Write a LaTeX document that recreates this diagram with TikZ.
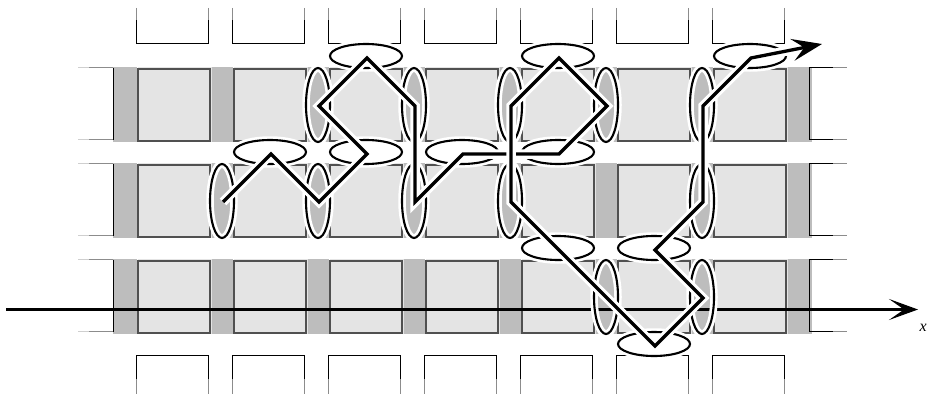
\documentclass[tikz,border=0pt]{standalone}
\usepackage{fontspec}
\setmainfont{Liberation Serif}
\usetikzlibrary{arrows.meta,shapes.geometric}
\definecolor{GateGray}{HTML}{BDBDBD}
\definecolor{CellGray}{HTML}{E4E4E4}
\definecolor{CellEdge}{HTML}{505050}
\definecolor{StubFade}{HTML}{8C8C8C}
\definecolor{StubPale}{HTML}{CFCFCF}

\begin{document}
\begin{tikzpicture}[
  x=1pt, y=-1pt,
  gate/.style={fill=GateGray},
  backing/.style={fill=CellGray},
  cell/.style={rectangle, draw=CellEdge, fill=CellGray, line width=1.2pt,
               minimum width=72pt, minimum height=72pt, inner sep=0pt},
  stub/.style={draw=black, line width=1pt},
  stubfade/.style={draw=StubFade, line width=1pt},
  stubpale/.style={draw=StubPale, line width=1pt},
  axisline/.style={-{Stealth[length=29pt,width=21pt,inset=15pt]}, line width=3pt},
  ringflat/.style={ellipse, draw=black, line width=2.1pt, inner sep=0pt,
                   minimum width=72pt, minimum height=24pt,
                   preaction={draw=white, line width=7.5pt}},
  ringtall/.style={ringflat, minimum width=24pt, minimum height=74pt},
  walkhalo/.style={draw=white, line width=9.5pt},
  walk/.style={draw=black, line width=3.3pt},
  walkend/.style={walk, -{Stealth[length=30pt,width=22pt,inset=12pt]}}
]
\useasboundingbox (0,0) rectangle (928,396);
% gates and cells
\foreach \gy in {67,163,259} {
  \fill[gate] (113,\gy) rectangle (137,\gy+75);
  \foreach \gx in {211,307,403,499,595,691}
    \fill[gate] (\gx,\gy) rectangle (\gx+22,\gy+75);
  \fill[gate] (787,\gy) rectangle (811.5,\gy+75);
}
\foreach \row/\cy in {1/105,2/201,3/297}
  \foreach \col/\cx in {1/174,2/270,3/366,4/462,5/558,6/654,7/750} {
    \fill[backing] (\cx-36.5,\cy-38) rectangle (\cx+37.5,\cy+37);
    \node[cell] (cell\row\col) at (\cx,\cy) {};
  }
% open boxes round the lattice
\foreach \bx in {136.5,232.5,328.5,424.5,520.5,616.5,712.5} {
  \draw[stub] (\bx,20) -- (\bx,43.5) -- (\bx+72,43.5) -- (\bx+72,20);
  \draw[stubfade] (\bx,8) -- (\bx,20) (\bx+72,8) -- (\bx+72,20);
  \draw[stub] (\bx,379) -- (\bx,355.5) -- (\bx+72,355.5) -- (\bx+72,379);
  \draw[stubfade] (\bx,379) -- (\bx,394) (\bx+72,379) -- (\bx+72,394);
}
\foreach \sy in {67.5,163.5,259.5} {
  \draw[stub] (113,\sy) -- (113,\sy+72);
  \draw[stubfade] (113,\sy) -- (89,\sy) (113,\sy+72) -- (89,\sy+72);
  \draw[stubpale] (89,\sy) -- (78,\sy) (89,\sy+72) -- (78,\sy+72);
  \draw[stub] (833,\sy) -- (809.5,\sy) -- (809.5,\sy+72) -- (833,\sy+72);
  \draw[stubfade] (833,\sy) -- (847,\sy) (833,\sy+72) -- (847,\sy+72);
}
% x axis
\coordinate (axisstart) at (6,309.5);
\coordinate (axisend) at (918,309.5);
\draw[axisline] (axisstart) -- (axisend);
\node[font=\itshape\fontsize{16}{16}\selectfont, anchor=base west, inner sep=0pt] (axislabel) at (919.5,331) {x};
% rings
\foreach \rx/\ry [count=\i] in {366/56,558/56,750/56,270/152,366/152,462/152,558/152,
                                558/248,654/248,654/344}
  \node[ringflat] (flat\i) at (\rx,\ry) {};
\foreach \rx/\ry [count=\i] in {318/105,414/105,510/105,606/105,702/105,222/201,318/201,
                                414/201,510/201,702/201,606/297,702/297}
  \node[ringtall] (tall\i) at (\rx,\ry) {};
% walk
\foreach \wx/\wy [count=\i] in {223/202,271/154,319/202,367/154,319/106,367/58,415/106,415/202,
                                463/154,559/154,607/106,559/58,511/106,511/125,511/202,655/346,
                                703/298,655/250,703/202,703/106,751/58,822/44}
  \coordinate (p\i) at (\wx,\wy);
\draw[walkhalo] (p1) -- (p2) -- (p3) -- (p4) -- (p5) -- (p6) -- (p7) -- (p8) -- (p9) -- (p10)
  -- (p11) -- (p12) -- (p13) -- (p14);
\draw[walk] (p1) -- (p2) -- (p3) -- (p4) -- (p5) -- (p6) -- (p7) -- (p8) -- (p9) -- (p10)
  -- (p11) -- (p12) -- (p13) -- (p14);
\draw[walkhalo] (p14) -- (p15) -- (p16) -- (p17) -- (p18) -- (p19) -- (p20) -- (p21) -- (p22);
\draw[walkend] (p14) -- (p15) -- (p16) -- (p17) -- (p18) -- (p19) -- (p20) -- (p21) -- (p22);
\end{tikzpicture}
\end{document}
